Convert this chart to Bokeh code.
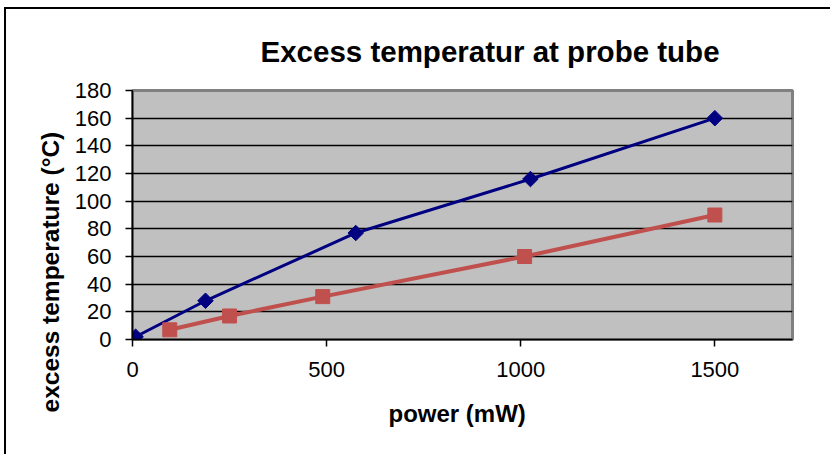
import numpy as np
from bokeh.plotting import figure
from bokeh.models import Range1d, Title, FixedTicker
from bokeh.embed import file_html
from bokeh.resources import INLINE

title_text = "Excess temperatur at probe tube"
x_label = "power (mW)"
y_label = "excess temperature (°C)"

power_blue = [8, 188, 575, 1025, 1500]
temp_blue = [2, 28, 77, 116, 160]
power_red = [96, 250, 490, 1010, 1500]
temp_red = [7, 17, 31, 60, 90]

x_ticks = [0, 500, 1000, 1500]
y_ticks = [0, 20, 40, 60, 80, 100, 120, 140, 160, 180]

FONT = "Liberation Sans"
W, H = 830, 454

p = figure(width=W, height=H, output_backend="svg", toolbar_location=None,
           x_range=Range1d(0, 1700), y_range=Range1d(0, 180),
           min_border_left=132, min_border_right=38, min_border_top=90, min_border_bottom=115)
p.styles = {"box-shadow": "inset 0 7px 0 0 white, inset 4px 0 0 0 white, "
                          "inset 0 9px 0 0 black, inset 6px 0 0 0 black",
            "background-color": "white"}
p.background_fill_color = "#C0C0C0"
p.border_fill_color = None
p.outline_line_color = "#808080"
p.outline_line_width = 3

for ax in (p.xaxis[0], p.yaxis[0]):
    ax.axis_line_color = "black"
    ax.axis_line_width = 1.5
    ax.major_tick_line_color = "black"
    ax.major_tick_line_width = 1.5
    ax.major_tick_in = 0
    ax.major_tick_out = 7
    ax.minor_tick_line_color = None
    ax.major_label_text_font = FONT
    ax.major_label_text_font_size = "22px"
    ax.major_label_text_color = "black"

p.xaxis[0].ticker = FixedTicker(ticks=x_ticks)
p.yaxis[0].ticker = FixedTicker(ticks=y_ticks)
p.xaxis[0].major_label_standoff = 15
p.yaxis[0].major_label_standoff = 14

p.xgrid.grid_line_color = None
p.ygrid.ticker = FixedTicker(ticks=y_ticks)
p.ygrid.grid_line_color = "black"
p.ygrid.grid_line_width = 1.5

p.line(power_blue, temp_blue, line_color="#000080", line_width=3)
p.scatter(power_blue, temp_blue, marker="square", angle=np.pi / 4, size=11,
          fill_color="#000080", line_color="#000080")
p.line(power_red, temp_red, line_color="#C0504D", line_width=4)
p.scatter(power_red, temp_red, marker="square", size=14,
          fill_color="#C0504D", line_color="#C0504D")

p.title = Title(text=title_text, text_font=FONT, text_font_size="29.5px",
                text_font_style="bold", text_color="black", align="left",
                offset=128, standoff=46)
p.add_layout(Title(text=x_label, text_font=FONT, text_font_size="24px",
                   text_font_style="bold", text_color="black", align="left",
                   offset=256, standoff=36), "below")
p.add_layout(Title(text=y_label, text_font=FONT, text_font_size="24.5px",
                   text_font_style="bold", text_color="black", align="left",
                   offset=-73, standoff=16), "left")

open("out.html", "w").write(file_html(p, INLINE))
